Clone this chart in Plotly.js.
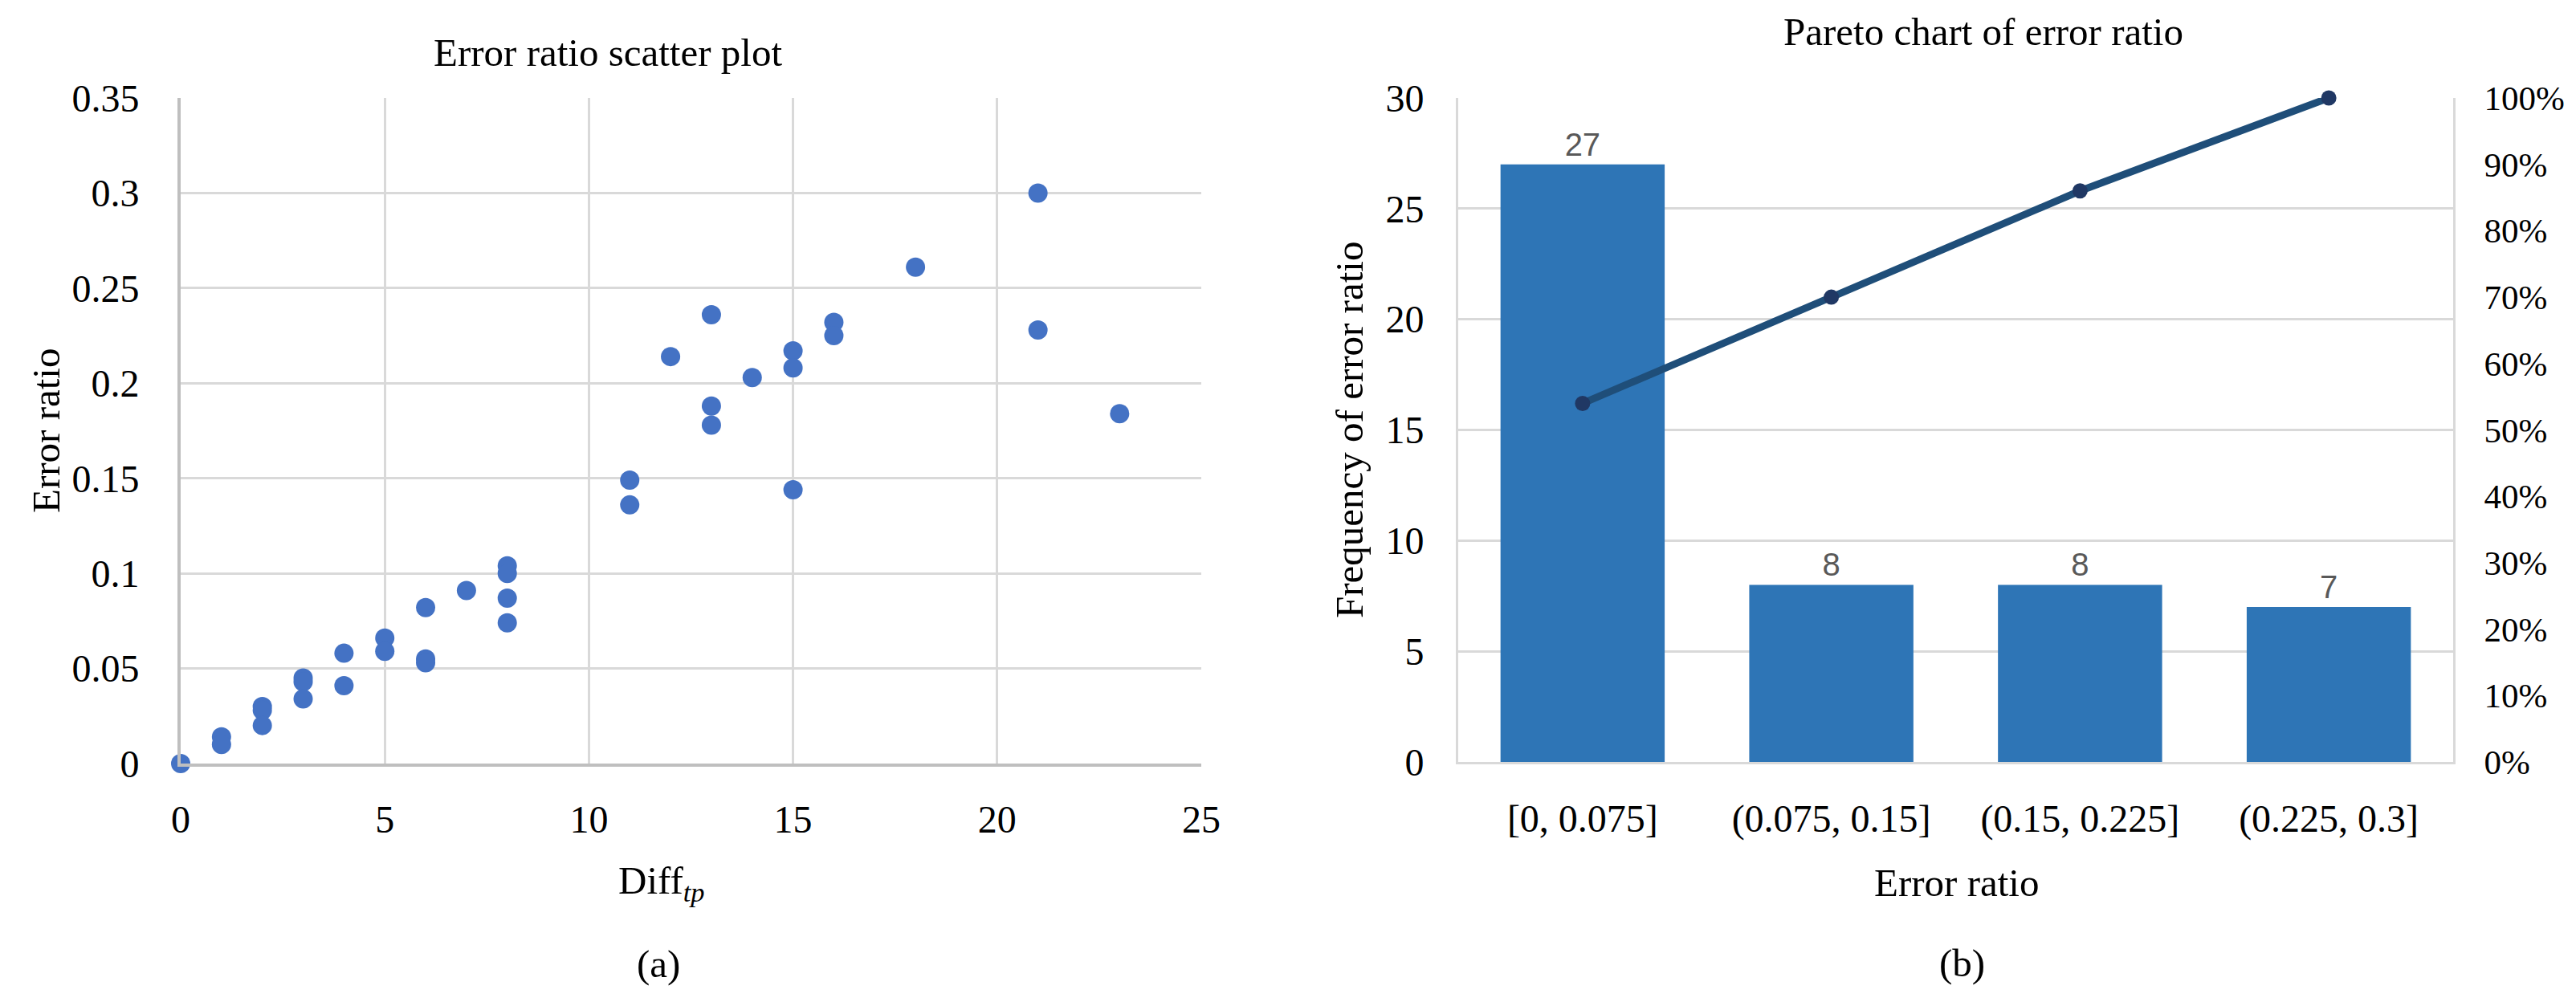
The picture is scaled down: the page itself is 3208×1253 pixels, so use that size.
<!DOCTYPE html>
<html>
<head>
<meta charset="utf-8">
<script src="https://cdn.plot.ly/plotly-3.0.1.min.js"></script>
<style>
  html, body { margin: 0; padding: 0; background: #FFFFFF; }
  #chart { width: 3208px; height: 1253px; }
</style>
</head>
<body>
<div id="chart"></div>
<script>
// (a) scatter: Diff_tp vs error ratio (overlapping dots kept as pairs)
const diffTp = [0, 1, 1, 2, 2, 2, 3, 3, 3, 4, 4, 5, 5, 6, 6, 6, 7, 8, 8, 8, 8,
                11, 11, 12, 13, 13, 13, 14, 15, 15, 15, 16, 16, 18, 21, 21, 23];
const errorRatio = [0, 0.014, 0.010, 0.030, 0.028, 0.020, 0.045, 0.043, 0.034, 0.058, 0.041,
                    0.066, 0.059, 0.082, 0.055, 0.053, 0.091, 0.104, 0.100, 0.087, 0.074,
                    0.149, 0.136, 0.214, 0.236, 0.188, 0.178, 0.203, 0.217, 0.208, 0.144,
                    0.232, 0.225, 0.261, 0.300, 0.228, 0.184];

// (b) pareto: bins, counts, cumulative share
const bins      = ['[0, 0.075]', '(0.075, 0.15]', '(0.15, 0.225]', '(0.225, 0.3]'];
const binCounts = [27, 8, 8, 7];
const cumShare  = [0.54, 0.70, 0.86, 1.00];

// ── layout helpers (pixel -> paper) ──────────────────────────────────────
const W = 3208, H = 1253;
const px = x => x / W;
const py = y => 1 - y / H;

const SERIF = 'Liberation Serif, Times New Roman, serif';
const tickFont = { family: SERIF, size: 48, color: '#000000' };
const pctFont = { family: SERIF, size: 43, color: '#000000' };   // right axis, keeps "100%" inside the page
const labelFont = { family: SERIF, size: 49, color: '#000000' };

const scatter = {
  type: 'scatter', mode: 'markers',
  x: diffTp, y: errorRatio,
  xaxis: 'x', yaxis: 'y',
  marker: { color: '#4472C4', size: 24 },
  cliponaxis: false
};

const bars = {
  type: 'bar',
  x: bins, y: binCounts,
  xaxis: 'x2', yaxis: 'y2',
  marker: { color: '#2E75B6' },
  text: binCounts.map(String),
  textposition: 'outside',
  textfont: { family: 'Liberation Sans, Arial, sans-serif', size: 40, color: '#595959' },
  cliponaxis: false
};

const cumLine = {
  type: 'scatter', mode: 'lines+markers',
  x: bins, y: cumShare,
  xaxis: 'x2', yaxis: 'y3',
  line: { color: '#1F4E79', width: 9 },
  marker: { color: '#203864', size: 19 },
  cliponaxis: false
};

const layout = {
  width: W, height: H,
  margin: { l: 0, r: 0, t: 0, b: 0 },
  paper_bgcolor: '#FFFFFF',
  plot_bgcolor: '#FFFFFF',
  showlegend: false,
  hovermode: false,
  font: { family: SERIF },
  bargap: 0.34,

  // scatter axes
  xaxis: {
    domain: [px(225), px(1496)],
    range: [0, 25], dtick: 5, tick0: 0,
    showgrid: true, gridcolor: '#D9D9D9', gridwidth: 3,
    showline: true, linecolor: '#BFBFBF', linewidth: 4,
    zeroline: false, ticks: '',
    tickfont: tickFont, ticklabelstandoff: 24
  },
  yaxis: {
    domain: [py(951), py(122)],
    range: [0, 0.35], dtick: 0.05, tick0: 0,
    showgrid: true, gridcolor: '#D9D9D9', gridwidth: 3,
    showline: true, linecolor: '#BFBFBF', linewidth: 4,
    zeroline: false, ticks: '',
    tickfont: tickFont, ticklabelstandoff: 38
  },

  // pareto axes
  xaxis2: {
    domain: [px(1816), px(3055)],
    anchor: 'y2',
    showgrid: false,
    showline: true, linecolor: '#D9D9D9', linewidth: 3,
    ticks: '',
    tickfont: tickFont, ticklabelstandoff: 26
  },
  yaxis2: {
    domain: [py(949), py(122)],
    anchor: 'x2',
    range: [0, 30], dtick: 5, tick0: 0,
    showgrid: true, gridcolor: '#D9D9D9', gridwidth: 3,
    showline: true, linecolor: '#D9D9D9', linewidth: 3,
    zeroline: false, ticks: '',
    tickfont: tickFont, ticklabelstandoff: 30
  },
  yaxis3: {
    overlaying: 'y2', side: 'right', anchor: 'x2',
    range: [0, 1], dtick: 0.1, tick0: 0, tickformat: '.0%',
    showgrid: false,
    showline: true, linecolor: '#D9D9D9', linewidth: 3,
    zeroline: false, ticks: '',
    tickfont: pctFont, ticklabelstandoff: 27
  },

  annotations: [
    { text: 'Error ratio scatter plot', x: px(757), y: py(65) },
    { text: 'Pareto chart of error ratio', x: px(2470), y: py(40) },
    { text: 'Diff<sub><i>tp</i></sub>', x: px(823), y: py(1099) },
    { text: 'Error ratio', x: px(2436), y: py(1099) },
    { text: 'Error ratio', x: px(57), y: py(537), textangle: -90 },
    { text: 'Frequency of error ratio', x: px(1680), y: py(536), textangle: -90 },
    { text: '(a)', x: px(820), y: py(1200) },
    { text: '(b)', x: px(2443), y: py(1199) }
  ].map(a => Object.assign({
    xref: 'paper', yref: 'paper',
    xanchor: 'center', yanchor: 'middle',
    showarrow: false, font: labelFont
  }, a))
};

Plotly.newPlot('chart', [bars, cumLine, scatter], layout, { displayModeBar: false, staticPlot: true });
</script>
</body>
</html>
